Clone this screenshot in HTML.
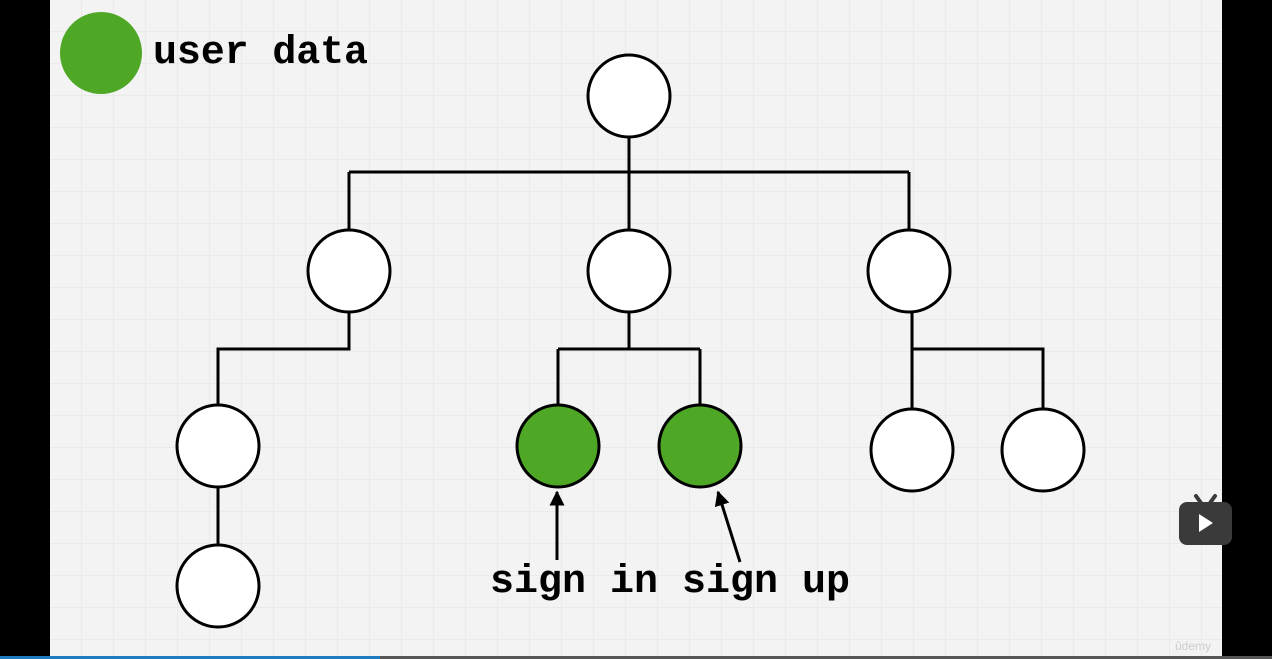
<!DOCTYPE html>
<html><head><style>
body{margin:0;width:1272px;height:659px;background:#000;overflow:hidden}
svg{display:block}
</style></head><body>
<svg width="1272" height="659" viewBox="0 0 1272 659">
<defs>
<pattern id="g" width="32" height="32" patternUnits="userSpaceOnUse" x="50">
<rect width="32" height="32" fill="#f3f3f3"/>
<path d="M32 0V32M0 32H32" stroke="#e2e2e2" stroke-width="1"/>
</pattern>
<marker id="a" viewBox="0 0 10 10" refX="9" refY="5" markerWidth="5" markerHeight="5" orient="auto"><path d="M0 0L10 5L0 10z" fill="#000"/></marker>
</defs>
<rect x="50" y="0" width="1172" height="656" fill="url(#g)"/>
<rect x="0" y="656" width="1272" height="3" fill="#555"/>
<rect x="0" y="656" width="380" height="3" fill="#1f7bbf"/>
<circle cx="101" cy="53" r="41" fill="#4ea826"/>
<text x="153" y="63" font-family="Liberation Mono, monospace" font-weight="bold" font-size="40" textLength="215" fill="#000">user data</text>
<g stroke="#000" stroke-width="3" fill="none">
<path d="M629 137V172M349 172H909M349 172V230M629 172V230M909 172V230"/>
<path d="M349 312V349H218V405M218 487V545"/>
<path d="M629 312V349M558 349H700M558 349V405M700 349V405"/>
<path d="M912 312V349H1043V409M912 349V409"/>
<path d="M557 560V492" marker-end="url(#a)"/>
<path d="M740 562L718 492" marker-end="url(#a)"/>
</g>
<g stroke="#000" stroke-width="3" fill="#fff">
<circle cx="629" cy="96" r="41"/>
<circle cx="349" cy="271" r="41"/>
<circle cx="629" cy="271" r="41"/>
<circle cx="909" cy="271" r="41"/>
<circle cx="218" cy="446" r="41"/>
<circle cx="558" cy="446" r="41" fill="#4ea826"/>
<circle cx="700" cy="446" r="41" fill="#4ea826"/>
<circle cx="912" cy="450" r="41"/>
<circle cx="1043" cy="450" r="41"/>
<circle cx="218" cy="586" r="41"/>
</g>
<text x="490" y="592" font-family="Liberation Mono, monospace" font-weight="bold" font-size="40" textLength="360" fill="#000">sign in sign up</text>
<rect x="1179" y="502" width="53" height="43" rx="8" fill="#3a3a3a"/>
<path d="M1196 496l5 7M1215 496l-5 7" stroke="#3a3a3a" stroke-width="4" stroke-linecap="round"/>
<path d="M1199 514v18l14-9z" fill="#fff"/>
<text x="1175" y="650" font-family="Liberation Sans, sans-serif" font-size="12" fill="#ccc">ûdemy</text>
</svg>
</body></html>
